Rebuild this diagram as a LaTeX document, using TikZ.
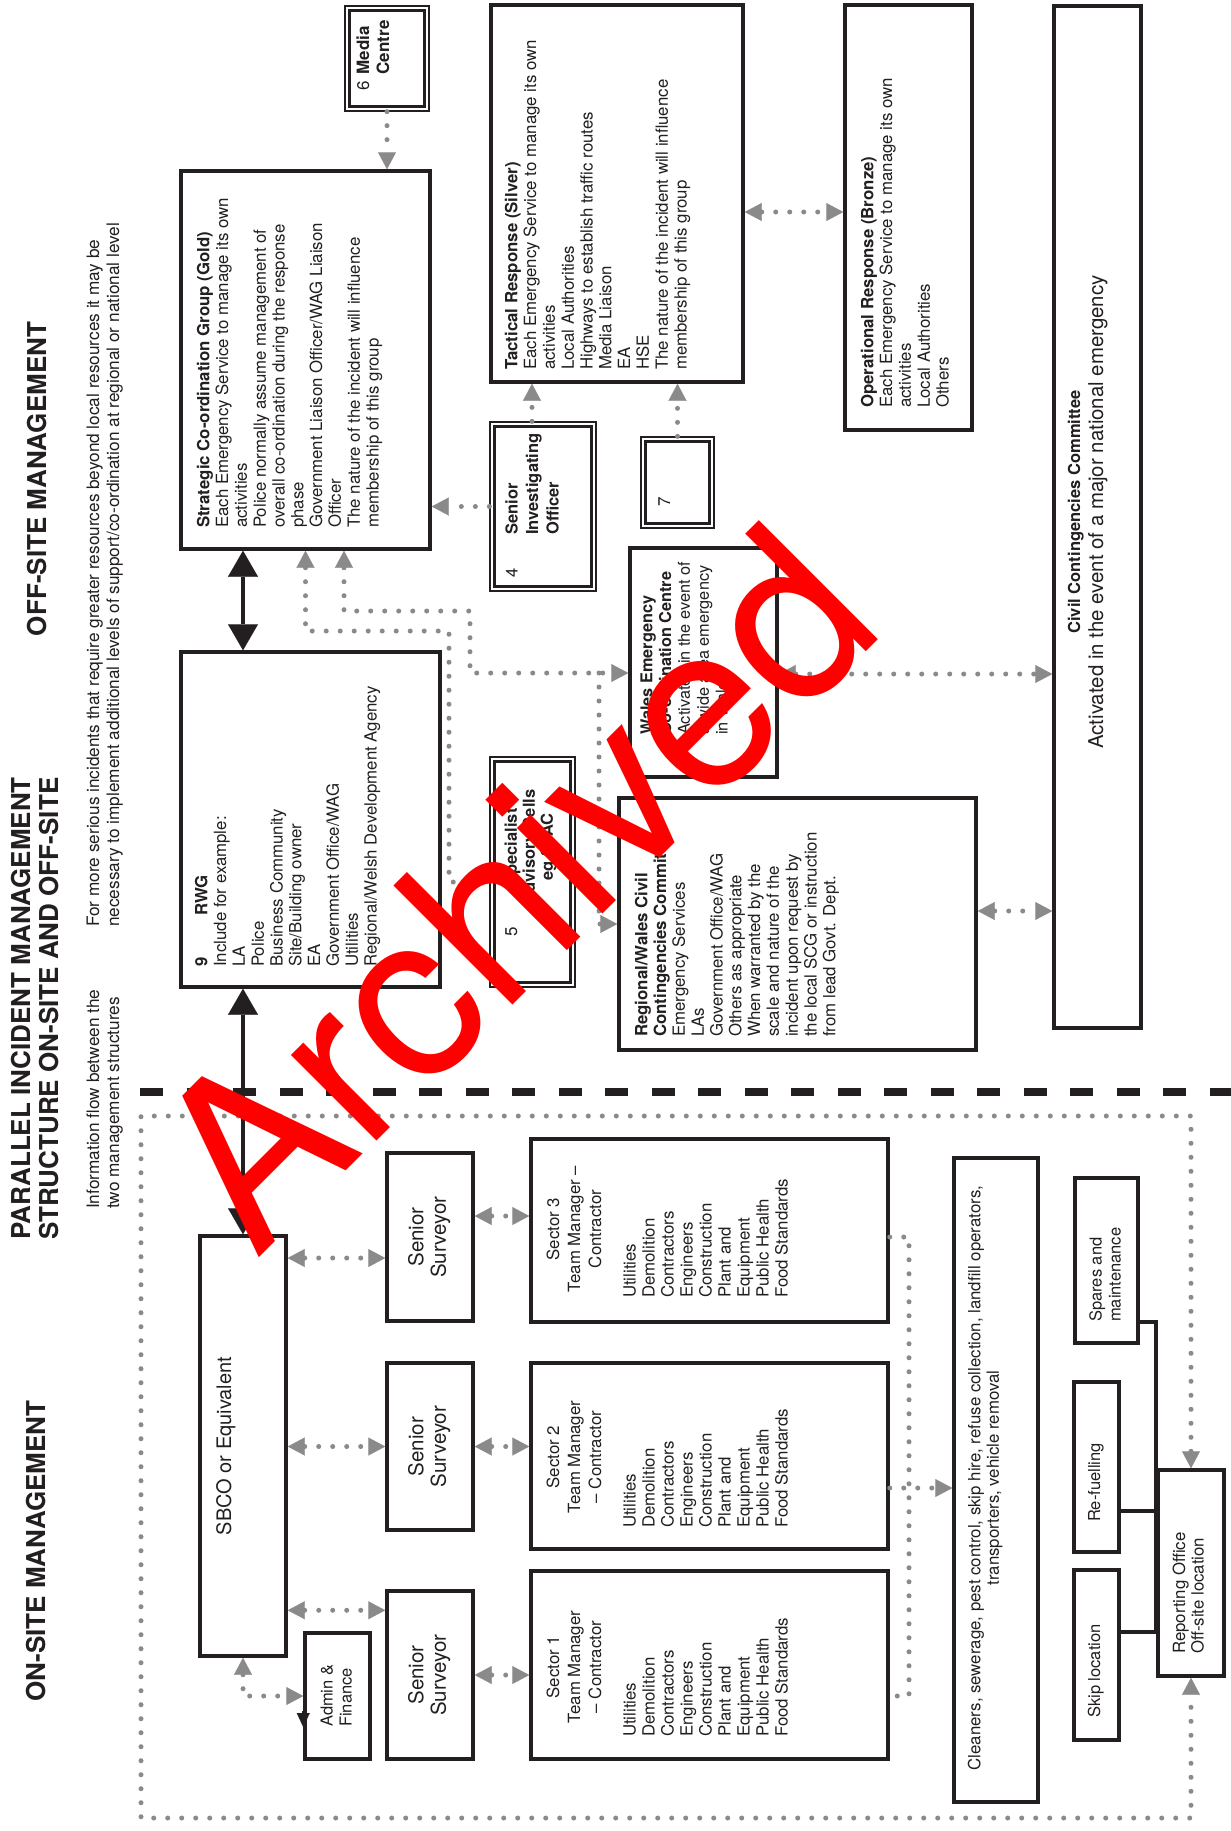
\documentclass[tikz,border=0pt]{standalone}
\usepackage{fontspec}
\setmainfont{TeX Gyre Heros}
\usetikzlibrary{fit,arrows.meta}
\definecolor{ink}{HTML}{231F20}
\definecolor{dotgray}{HTML}{8A8A8A}
\newcommand\tl[1]{\begin{tabular}{@{}l@{}}#1\end{tabular}}
\newcommand\tcc[1]{\begin{tabular}{@{}c@{}}#1\end{tabular}}
\newcommand\fs[2]{\fontsize{#1}{#2}\selectfont}
\newcommand\dbl[1]{\draw[draw=ink, line width=3pt] ([shift={(5pt,5pt)}]#1.south west) rectangle ([shift={(-5pt,-5pt)}]#1.north east);}
\begin{document}
\begin{tikzpicture}[x=1pt,y=-1pt,
  every node/.style={inner sep=0pt, text=ink},
  boxs/.style={draw=ink, line width=3.5pt, fill=white},
  dboxs/.style={draw=ink, line width=1.3pt, fill=white},
  dotln/.style={draw=dotgray, line width=5pt, line cap=round, dash pattern=on 0pt off 14pt,
     >={Triangle[length=17pt,width=18pt,line width=0.1pt]}},
  blkln/.style={draw=ink, line width=4pt, >={Triangle[length=26pt,width=30pt,line width=0.1pt]}},
  linkln/.style={draw=ink, line width=4pt},
  vt/.style={rotate=90},
  bodyf/.style={font=\fs{16.8}{18.8}},
  listf/.style={font=\fs{16.8}{19}},
  titlef/.style={font=\fs{26}{28}\bfseries}]
\useasboundingbox (0,0) rectangle (1231,1831);
\fill[white] (0,0) rectangle (1231,1831);

% ---------- titles ----------
\node[vt, titlef, anchor=base] (tOff) at (46,479) {OFF-SITE MANAGEMENT};
\node[vt, titlef, anchor=base west] (tPar1) at (30,1240) {PARALLEL INCIDENT MANAGEMENT};
\node[vt, titlef, anchor=base west] (tPar2) at (58,1240) {STRUCTURE ON-SITE AND OFF-SITE};
\node[vt, titlef, anchor=base] (tOn) at (45,1551) {ON-SITE MANAGEMENT};
\node[vt, font=\fs{17.2}{20}, anchor=north west] (tSub1) at (85,927) {\tl{For more serious incidents that require greater resources beyond local resources it may be\\necessary to implement additional levels of support/co-ordination at regional or national level}};
\node[vt, font=\fs{17.2}{20}, anchor=north west] (tSub2) at (85,1209) {\tl{Information flow between the\\two management structures}};

% ---------- divider ----------
\draw[ink, line width=8pt, dash pattern=on 23pt off 23.5pt] (140,1092) -- (1231,1092);

% ---------- boxes ----------
\node[dboxs, fit={(345,6) (429,111)}] (media) {}; \dbl{media}
\node[boxs, fit={(181,171) (430,549)}] (gold) {};
\node[boxs, fit={(491,5) (743,382)}] (silver) {};
\node[boxs, fit={(845,5) (972,430)}] (bronze) {};
\node[boxs, fit={(1054,6) (1141,1028)}] (ccc) {};
\node[dboxs, fit={(490,422) (596,591)}] (sio) {}; \dbl{sio}
\node[dboxs, fit={(641,437) (714,528)}] (seven) {}; \dbl{seven}
\node[boxs, fit={(630,548) (777,777)}] (wales) {};
\node[boxs, fit={(181,652) (440,987)}] (rwg) {};
\node[dboxs, fit={(490,757) (575,987)}] (spec) {}; \dbl{spec}
\node[boxs, fit={(619,798) (976,1050)}] (rwccc) {};
\node[boxs, fit={(200,1236) (286,1656)}] (sbco) {};
\node[boxs, fit={(305,1633) (370,1759)}] (admin) {};
\node[boxs, fit={(387,1153) (473,1321)}] (ss3) {};
\node[boxs, fit={(387,1363) (473,1530)}] (ss2) {};
\node[boxs, fit={(387,1591) (473,1759)}] (ss1) {};
\node[boxs, fit={(531,1139) (888,1322)}] (sec3) {};
\node[boxs, fit={(531,1363) (888,1549)}] (sec2) {};
\node[boxs, fit={(531,1571) (888,1759)}] (sec1) {};
\node[boxs, fit={(954,1158) (1038,1802)}] (clean) {};
\node[boxs, fit={(1075,1178) (1138,1343)}] (spares) {};
\node[boxs, fit={(1074,1382) (1119,1552)}] (refuel) {};
\node[boxs, fit={(1074,1570) (1119,1740)}] (skip) {};
\node[boxs, fit={(1158,1470) (1224,1676)}] (report) {};

% ---------- solid links to reporting office ----------
\draw[linkln] ([yshift=23pt]spares.south east) -| (report.north west);
\draw[linkln] ([yshift=43pt]refuel.south east) -| (report.north west);
\draw[linkln] ([yshift=-64pt]skip.north east) -| (report.north west);

% ---------- black arrows ----------
\path ([xshift=-62.5pt]gold.south) coordinate (gS);
\draw[blkln, <->] (gS) -- (gS |- rwg.north);
\draw[blkln, <->] (sbco.north |- rwg.south) -- (sbco.north);
\draw[ink, line width=2pt, -{Triangle[length=14pt,width=13pt,line width=0.1pt]}] ([yshift=-15pt]admin.west) -- ([yshift=-31pt]admin.west);

% ---------- dotted connectors, off-site ----------
\draw[dotln, ->] (media.south) -- (media.south |- gold.north);
\draw[dotln, ->] (sio.west) -- (sio.west -| gold.east);
\path ([xshift=-11pt]sio.north) coordinate (sN);
\draw[dotln, ->] (sN) -- (sN |- silver.south);
\draw[dotln, ->] (seven.north) -- (seven.north |- silver.south);
\path ([yshift=-18.5pt]silver.east) coordinate (sE);
\draw[dotln, <->] (sE) -- (sE -| bronze.west);
\coordinate (a1) at (449,631);
\path ([yshift=-10pt]spec.west) coordinate (specIn);
\draw[dotln, <-] (gold.south) |- (a1) |- (specIn);
\path ([xshift=38.5pt]gold.south) coordinate (gB);
\coordinate (b1) at (470,611);
\path ([yshift=-10.5pt]wales.west) coordinate (wIn);
\draw[dotln, <->] (gB) |- (b1) |- (wIn);
\coordinate (b2) at (599,673);
\draw[dotln, ->] (b2) |- (rwccc.west);
\path ([yshift=-11.5pt]wales.east) coordinate (wE);
\draw[dotln, <->] (wE) -- (wE -| ccc.west);
\path ([yshift=13pt]rwccc.east) coordinate (rE);
\draw[dotln, <->] (rE) -- (rE -| ccc.west);

% ---------- dotted connectors, on-site ----------
\path ([yshift=-21pt]ss3.west) coordinate (s3w);
\draw[dotln, <->] (s3w -| sbco.east) -- (s3w);
\draw[dotln, <->] (ss2.west -| sbco.east) -- (ss2.west);
\path ([yshift=-21pt]ss1.north west) coordinate (s1w);
\draw[dotln, <->] (s1w -| sbco.east) -- (s1w);
\path ([yshift=21pt]ss3.east) coordinate (s3e);
\draw[dotln, <->] (s3e) -- (s3e -| sec3.west);
\draw[dotln, <->] (ss2.east) -- (ss2.east -| sec2.west);
\draw[dotln, <->] (ss1.east) -- (ss1.east -| sec1.west);
\draw[dotln, <->] (sbco.south) |- (admin.west);
\path ([yshift=-6.5pt]sec3.east) coordinate (c3);
\path ([yshift=-31pt]sec1.east) coordinate (c1);
\path ([yshift=-32pt]sec2.east) coordinate (c2);
\coordinate (tr) at (909,1237);
\draw[dotln] (c3) -- (tr) |- (c1);
\draw[dotln, ->] (c2) -- (c2 -| clean.west);
\coordinate (lpTL) at (141,1116);
\coordinate (lpBL) at (141,1818);
\draw[dotln, <->] (report.north) |- (lpTL) -- (lpBL) -| (report.south);

% ---------- texts ----------
\node[vt, font=\fs{17}{20}, anchor=north west] (tMedia) at (355,91) {\begin{tabular}{@{}l@{\hspace{7pt}}l@{}}6 & \textbf{Media}\\ & \textbf{Centre}\end{tabular}};
\node[vt, bodyf, anchor=north west] (tGold) at (196,528) {\tl{\textbf{Strategic Co-ordination Group (Gold)}\\Each Emergency Service to manage its own\\activities\\Police normally assume management of\\overall co-ordination during the response\\phase\\Government Liaison Officer/WAG Liaison\\Officer\\The nature of the incident will influence\\membership of this group}};
\node[vt, bodyf, anchor=north west] (tSilver) at (504,370) {\tl{\textbf{Tactical Response (Silver)}\\Each Emergency Service to manage its own\\activities\\Local Authorities\\Highways to establish traffic routes\\Media Liaison\\EA\\HSE\\The nature of the incident will influence\\membership of this group}};
\node[vt, bodyf, anchor=north west] (tBronze) at (860,408) {\tl{\textbf{Operational Response (Bronze)}\\Each Emergency Service to manage its own\\activities\\Local Authorities\\Others}};
\node[vt, font=\fs{16.5}{18}\bfseries, anchor=base] (tCcc1) at (1080,512) {Civil Contingencies Committee};
\node[vt, font=\fs{20.4}{22}, anchor=base] (tCcc2) at (1103,512) {Activated in the event of a major national emergency};
\node[vt, font=\fs{16.5}{20.5}, anchor=north west] (tSio) at (503,578) {\begin{tabular}{@{}l@{}l@{}}\makebox[43pt][l]{4} & \textbf{Senior}\\ & \textbf{Investigating}\\ & \textbf{Officer}\end{tabular}};
\node[vt, font=\fs{17}{20}, anchor=base] (tSeven) at (670,502) {7};
\node[vt, font=\fs{16.3}{18.8}, anchor=north west] (tWales) at (639,735) {\tl{\textbf{Wales Emergency}\\\textbf{Co-ordination Centre}\\Activated in the event of\\a wide area emergency\\in Wales}};
\node[vt, bodyf, anchor=north west] (tRwg) at (194,967) {\tl{\textbf{\makebox[51pt][l]{9}RWG}\\Include for example:\\LA\\Police\\Business Community\\Site/Building owner\\EA\\Government Office/WAG\\Utilities\\Regional/Welsh Development Agency}};
\node[vt, font=\fs{17}{20}, anchor=base west] (tSpec5) at (517,937) {5};
\node[vt, font=\fs{16.5}{18}\bfseries, anchor=north] (tSpec) at (504,847) {\tcc{Specialist\\Advisory Cells\\eg STAC}};
\node[vt, bodyf, anchor=north west] (tRwccc) at (634,1037) {\tl{\textbf{Regional/Wales Civil}\\\textbf{Contingencies Committee}\\Emergency Services\\LAs\\Government Office/WAG\\Others as appropriate\\When warranted by the\\scale and nature of the\\incident upon request by\\the local SCG or instruction\\from lead Govt. Dept.}};
\node[vt, font=\fs{20}{22}, anchor=base] (tSbco) at (231,1446) {SBCO or Equivalent};
\node[vt, font=\fs{16.5}{19}, anchor=north west] (tAdmin) at (319,1727) {\tl{Admin \&\\Finance}};
\node[vt, font=\fs{20.5}{22.5}] (tSs3) at (ss3.center) {\tcc{Senior\\Surveyor}};
\node[vt, font=\fs{20.5}{22.5}] (tSs2) at (ss2.center) {\tcc{Senior\\Surveyor}};
\node[vt, font=\fs{20.5}{22.5}] (tSs1) at (ss1.center) {\tcc{Senior\\Surveyor}};
\node[vt, font=\fs{16.8}{21}] (tSec3h) at (576,1229) {\tcc{Sector 3\\Team Manager –\\Contractor}};
\node[vt, font=\fs{16.8}{21}] (tSec2h) at (576,1457) {\tcc{Sector 2\\Team Manager\\– Contractor}};
\node[vt, font=\fs{16.8}{21}] (tSec1h) at (576,1667) {\tcc{Sector 1\\Team Manager\\– Contractor}};
\node[vt, listf, anchor=north west] (tSec3l) at (622,1298) {\tl{Utilities\\Demolition\\Contractors\\Engineers\\Construction\\Plant and\\Equipment\\Public Health\\Food Standards}};
\node[vt, listf, anchor=north west] (tSec2l) at (622,1528) {\tl{Utilities\\Demolition\\Contractors\\Engineers\\Construction\\Plant and\\Equipment\\Public Health\\Food Standards}};
\node[vt, listf, anchor=north west] (tSec1l) at (622,1737) {\tl{Utilities\\Demolition\\Contractors\\Engineers\\Construction\\Plant and\\Equipment\\Public Health\\Food Standards}};
\node[vt, font=\fs{16.8}{18.5}] (tClean) at (986,1478) {\tcc{Cleaners, sewerage, pest control, skip hire, refuse collection, landfill operators,\\transporters, vehicle removal}};
\node[vt, font=\fs{16.5}{19}, anchor=north west] (tSpares) at (1088,1322) {\tl{Spares and\\maintenance}};
\node[vt, font=\fs{16.5}{19}, anchor=base west] (tRefuel) at (1100,1522) {Re-fuelling};
\node[vt, font=\fs{16.5}{19}, anchor=base west] (tSkip) at (1100,1718) {Skip location};
\node[vt, font=\fs{16.8}{18.5}, anchor=north west] (tReport) at (1172,1654) {\tl{Reporting Office\\Off-site location}};

% ---------- watermark ----------
\node[rotate=45, text=red, font=\fs{231}{231}] (wm) at (514,887) {Archived};
\end{tikzpicture}
\end{document}
